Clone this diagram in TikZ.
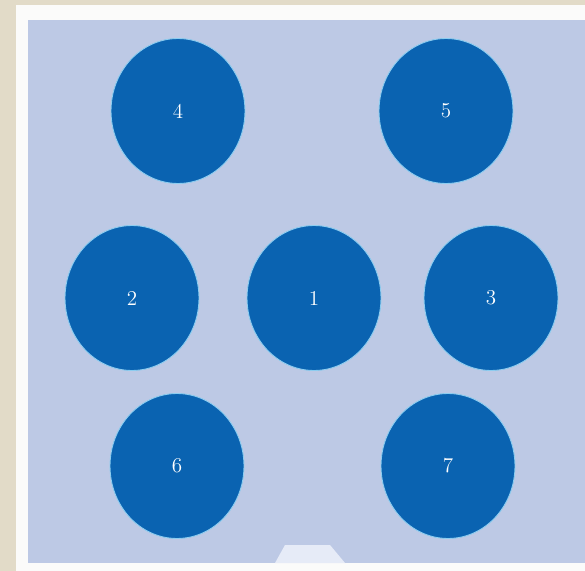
\documentclass[tikz,border=0pt]{standalone}
\usepackage{xcolor}
\definecolor{bgbeige}{RGB}{226,219,200}
\definecolor{framewhite}{RGB}{251,251,250}
\definecolor{panelblue}{RGB}{189,201,229}
\definecolor{tabblue}{RGB}{230,235,247}
\definecolor{discblue}{RGB}{10,99,177}
\definecolor{rimblue}{RGB}{140,205,240}
\usepackage{tikz}
\usetikzlibrary{shapes.geometric}

\tikzset{
  disc/.style={ellipse, draw=rimblue, line width=0.5pt, fill=discblue,
    minimum width=2.68cm, minimum height=2.9cm, inner sep=0pt,
    text=white, font=\fontsize{12}{14}\selectfont}
}

\begin{document}
\begin{tikzpicture}[x=0.02cm, y=-0.02cm]

\useasboundingbox (0,0) rectangle (585,571);

% === Background ===
\fill[bgbeige] (0,0) rectangle (585,571);
\fill[framewhite] (16,5) rectangle (585,571);
\fill[panelblue] (28,20) rectangle (585,563);

% small tab at the bottom edge
\fill[tabblue] (275,563) -- (285,545) -- (330,545) -- (345,563) -- cycle;

% === Top row ===
\node[disc] (c4) at (178,111) {4};
\node[disc] (c5) at (446,111) {5};

% === Middle row ===
\node[disc] (c2) at (132,298) {2};
\node[disc] (c1) at (314,298) {1};
\node[disc] (c3) at (491,298) {3};

% === Bottom row ===
\node[disc] (c6) at (177,466) {6};
\node[disc] (c7) at (448,466) {7};

\end{tikzpicture}
\end{document}
